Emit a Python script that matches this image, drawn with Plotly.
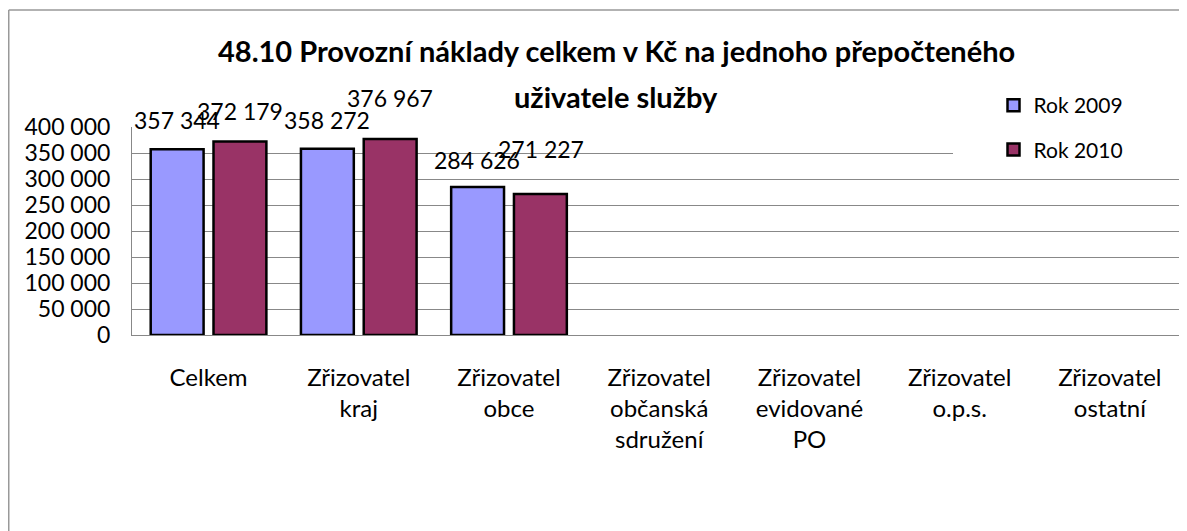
import plotly.graph_objects as go

categories = ["Celkem", "Zřizovatel<br>kraj", "Zřizovatel<br>obce", "Zřizovatel<br>občanská<br>sdružení",
              "Zřizovatel<br>evidované<br>PO", "Zřizovatel<br>o.p.s.", "Zřizovatel<br>ostatní"]
series_names = ["Rok 2009", "Rok 2010"]
values_2009 = [357344, 358272, 284626, None, None, None, None]
values_2010 = [372179, 376967, 271227, None, None, None, None]
tick_vals = [0, 50000, 100000, 150000, 200000, 250000, 300000, 350000, 400000]
tick_text = ["0", "50 000", "100 000", "150 000", "200 000", "250 000", "300 000", "350 000", "400 000"]
title_lines = ["48.10 Provozní náklady celkem v Kč na jednoho přepočteného", "uživatele služby"]

colors = ["#9999FF", "#993366"]
FONT = "Lato"

# figure geometry (page body has an 8px margin, so figure is 8px smaller)
W, H = 1179, 523
L, R, T, B = 124, 2, 119, 196
PW, PH = W - L - R, H - T - B


def px_x(x):  # figure pixel -> paper x
    return (x - L) / PW


def px_y(y):  # figure pixel (from top) -> paper y
    return (H - B - y) / PH


fig = go.Figure()
for k, (name, vals, col) in enumerate(zip(series_names, [values_2009, values_2010], colors)):
    fig.add_trace(go.Bar(x=categories, y=vals, name=name, marker_color=col,
                         marker_line_color="#000000", marker_line_width=2.5, legendgroup=f"g{k}"))


def fmt(v):
    return f"{v:,}".replace(",", " ")


# label vertical offsets (px), style only
shifts = {0: [29, 29, 27], 1: [30, 41, 45]}
offsets = [-0.21, 0.21]
for s, vals in enumerate([values_2009, values_2010]):
    for i, v in enumerate(vals):
        if v is None:
            continue
        fig.add_annotation(x=i + offsets[s], y=v, xref="x", yref="y", text=fmt(v),
                           showarrow=False, yshift=shifts[s][i], font=dict(size=23, color="#000"))

for line, ypx in zip(title_lines, [42, 88]):
    fig.add_annotation(x=px_x(608), y=px_y(ypx), xref="paper", yref="paper", text=f"<b>{line}</b>",
                       showarrow=False, xanchor="center", yanchor="middle",
                       font=dict(size=29, color="#000"))

# white legend background area (covers gridlines as in the original)
fig.add_shape(type="rect", xref="paper", yref="paper", x0=px_x(945), x1=px_x(1173),
              y0=px_y(162), y1=px_y(77), fillcolor="white", line=dict(width=0), layer="above")
# outer chart border (top and left visible)
fig.add_shape(type="line", xref="paper", yref="paper", x0=px_x(0.75), x1=px_x(0.75),
              y0=px_y(H + 20), y1=px_y(2), line=dict(color="#999", width=1.5))
fig.add_shape(type="line", xref="paper", yref="paper", x0=px_x(0.75), x1=px_x(W + 20),
              y0=px_y(2), y1=px_y(2), line=dict(color="#999", width=1.5))

fig.update_layout(
    width=W, height=H,
    paper_bgcolor="white", plot_bgcolor="white",
    font=dict(family=FONT, size=23, color="#000"),
    margin=dict(l=L, r=R, t=T, b=B, autoexpand=False, pad=0),
    barmode="group", bargap=0.164, bargroupgap=0.158,
    legend=dict(x=px_x(985.5), y=px_y(77), xanchor="left", yanchor="top", bgcolor="rgba(0,0,0,0)",
                font=dict(size=21), tracegroupgap=14, itemwidth=30, traceorder="grouped",
                borderwidth=0),
    showlegend=True,
)
fig.update_xaxes(type="category", showline=True, linecolor="#888", linewidth=1, ticks="",
                 tickfont=dict(size=24), showgrid=False, ticklabelstandoff=21)
fig.update_yaxes(range=[0, 400000], tickvals=tick_vals, ticktext=tick_text, showgrid=True,
                 gridcolor="#888", gridwidth=1, showline=True, linecolor="#888", linewidth=1,
                 tickfont=dict(size=23), zeroline=False, ticks="", ticklabelstandoff=16)
fig.write_html("out.html")
